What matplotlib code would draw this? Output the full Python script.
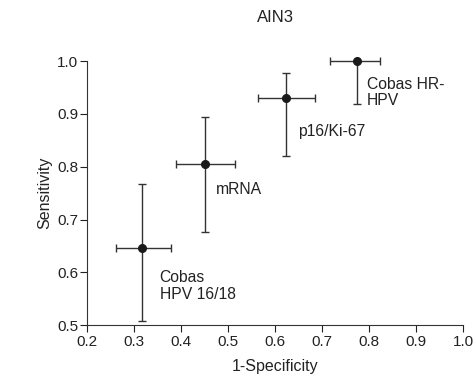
import matplotlib
matplotlib.use("Agg")
import matplotlib.pyplot as plt

plt.rcParams['font.family'] = ['Liberation Sans', 'DejaVu Sans']

tests = ["Cobas\nHPV 16/18", "mRNA", "p16/Ki-67", "Cobas HR-\nHPV"]
fpr = [0.318, 0.451, 0.623, 0.774]
fpr_lo = [0.263, 0.389, 0.564, 0.717]
fpr_hi = [0.379, 0.515, 0.685, 0.823]
sens = [0.646, 0.805, 0.930, 1.000]
sens_lo = [0.508, 0.676, 0.820, 0.919]
sens_hi = [0.767, 0.894, 0.977, 1.000]
label_offsets = [(0.037, -0.072), (0.023, -0.049), (0.026, -0.063), (0.022, -0.059)]

fig = plt.figure(figsize=(4.77, 3.75), dpi=100)
ax = fig.add_axes([0.182, 0.133, 0.789, 0.704])

col = '#1a1a1a'
xerr = [[f - l for f, l in zip(fpr, fpr_lo)], [h - f for f, h in zip(fpr, fpr_hi)]]
yerr = [[s - l for s, l in zip(sens, sens_lo)], [h - s for s, h in zip(sens, sens_hi)]]
eb = ax.errorbar(fpr, sens, xerr=xerr, yerr=yerr, fmt='o', color=col, ms=5.5,
                 capsize=3, elinewidth=1.0, capthick=1.0, ecolor='#333333', clip_on=False)
for a in eb.lines[1] + eb.lines[2]:
    a.set_clip_on(False)

for name, x, y, (dx, dy) in zip(tests, fpr, sens, label_offsets):
    ax.text(x + dx, y + dy, name, fontsize=11.3, color='#222222', va='center', ha='left',
            linespacing=1.1)

ax.set_xlim(0.2, 1.0)
ax.set_ylim(0.5, 1.0)
ax.set_xticks([0.2, 0.3, 0.4, 0.5, 0.6, 0.7, 0.8, 0.9, 1.0])
ax.set_yticks([0.5, 0.6, 0.7, 0.8, 0.9, 1.0])
ax.set_xticklabels([f"{v:.1f}" for v in ax.get_xticks()])
ax.set_yticklabels([f"{v:.1f}" for v in ax.get_yticks()])
ax.spines['top'].set_visible(False)
ax.spines['right'].set_visible(False)
for s in ('left', 'bottom'):
    ax.spines[s].set_color('#333333')
ax.tick_params(labelsize=11, length=5, pad=1, colors='#222222')
ax.tick_params(axis='x', pad=2)
ax.set_xlabel('1-Specificity', fontsize=11.5, color='#222222', labelpad=7)
ax.set_ylabel('Sensitivity', fontsize=11.5, color='#222222', labelpad=4)
fig.text(0.577, 0.952, 'AIN3', fontsize=12, ha='center', va='center', color='#222222')

fig.savefig('out.png', dpi=100)
